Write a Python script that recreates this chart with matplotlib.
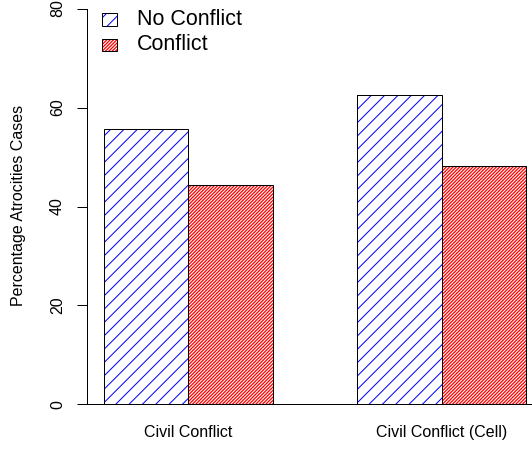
import matplotlib
matplotlib.use("Agg")
import matplotlib.pyplot as plt
from matplotlib.patches import Rectangle
import numpy as np

categories = ["Civil Conflict", "Civil Conflict (Cell)"]
series_names = ["No Conflict", "Conflict"]
no_conflict = [55.7, 62.5]
conflict = [44.3, 48.2]
yticks = [0, 20, 40, 60, 80]

plt.rcParams['font.family'] = ['Liberation Sans', 'DejaVu Sans']
plt.rcParams['hatch.linewidth'] = 1.0

DPI = 80
fig = plt.figure(figsize=(532 / DPI, 450 / DPI), dpi=DPI)
ax = fig.add_axes([87.1 / 532, (450 - 420.3) / 450, 455.8 / 532, 427.6 / 450])

group_x = np.array([2.0, 5.0])
w = 1.0
styles = [
    dict(color='blue', hatch='//', hlw=0.9),
    dict(color='red', hatch='////////', hlw=1.15),
]


def set_hlw(artist, lw):
    if hasattr(artist, 'set_hatch_linewidth'):
        artist.set_hatch_linewidth(lw)
    else:
        artist._hatch_linewidth = lw


for i, vals in enumerate([no_conflict, conflict]):
    xs = group_x + (i - 0.5) * w
    st = styles[i]
    with plt.rc_context({'hatch.linewidth': st['hlw']}):
        bars = ax.bar(xs, vals, width=w, facecolor='white', edgecolor=st['color'],
                      hatch=st['hatch'], linewidth=0)
    for b in bars:
        set_hlw(b, st['hlw'])
    ax.bar(xs, vals, width=w, facecolor='none', edgecolor='black', linewidth=0.9)

ax.set_xlim(0.8, 6.2)
ax.set_ylim(-3.2, 83.2)
ax.axhline(0, color='black', linewidth=0.9, xmin=0, xmax=1, clip_on=False)

for s in ['top', 'right', 'bottom']:
    ax.spines[s].set_visible(False)
ax.spines['left'].set_bounds(0, 80)
ax.spines['left'].set_linewidth(0.9)

ax.set_yticks(yticks)
ax.set_yticklabels([str(t) for t in yticks], rotation=90, va='center', fontsize=14.4)
ax.tick_params(axis='y', length=9, width=0.9, pad=11)
ax.set_xticks(group_x)
ax.set_xticklabels(categories, fontsize=14.4)
ax.tick_params(axis='x', length=0, pad=4.5)

fig.text(19 / 532, 1 - 205 / 450, "Percentage Atrocities Cases", rotation=90,
         ha='center', va='center', fontsize=14.4)

# legend
boxes = [(101.7, 13.3, 15.6, 12.4), (101.7, 39.0, 15.6, 11.7)]
for i, (bx, by, bw, bh) in enumerate(boxes):
    st = styles[i]
    rect_kw = dict(transform=fig.transFigure)
    with plt.rc_context({'hatch.linewidth': st['hlw']}):
        r1 = Rectangle((bx / 532, 1 - (by + bh) / 450), bw / 532, bh / 450,
                       facecolor='white', edgecolor=st['color'], hatch=st['hatch'],
                       linewidth=0, **rect_kw)
    set_hlw(r1, st['hlw'])
    r2 = Rectangle((bx / 532, 1 - (by + bh) / 450), bw / 532, bh / 450,
                   facecolor='none', edgecolor='black', linewidth=0.9, **rect_kw)
    fig.add_artist(r1)
    fig.add_artist(r2)
    fig.text(136.7 / 532, 1 - (by + bh / 2) / 450, series_names[i],
             ha='left', va='center', fontsize=19.4)

fig.savefig("out.png", dpi=DPI)
